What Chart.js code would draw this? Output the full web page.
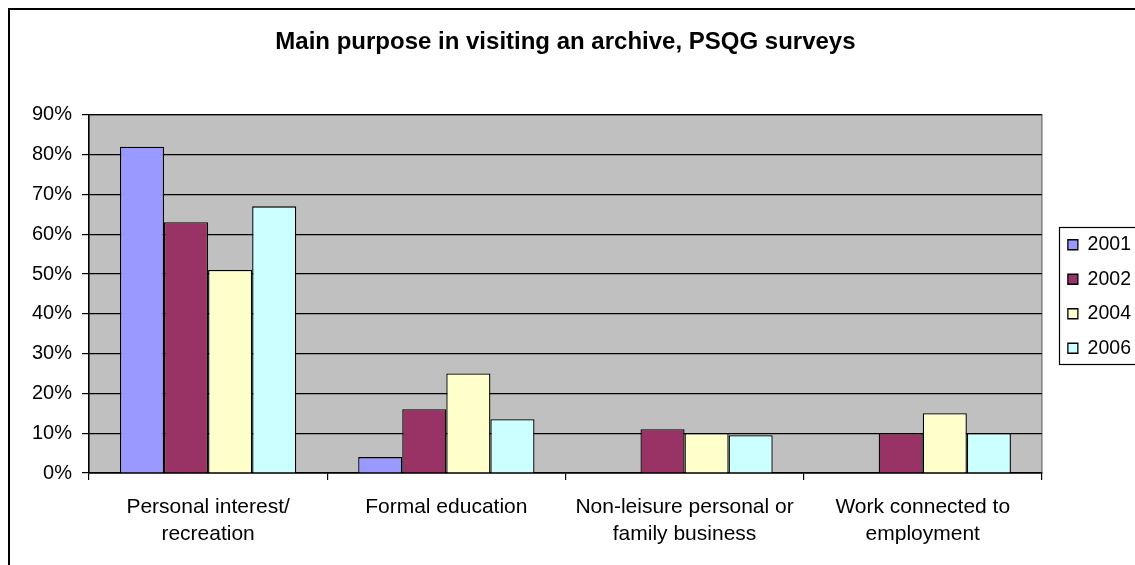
<!DOCTYPE html>
<html>
<head>
<meta charset="utf-8">
<title>Main purpose in visiting an archive, PSQG surveys</title>
<script src="https://cdn.jsdelivr.net/npm/chart.js@4.4.1/dist/chart.umd.min.js"></script>
<style>
  html, body { margin: 0; padding: 0; background: #ffffff; }
  #wrap { width: 1135px; height: 565px; }
  canvas { display: block; }
</style>
</head>
<body>
<div id="wrap"><canvas id="chart" width="1135" height="565"></canvas></div>
<script>
// Visit purposes (x categories), each label split into display lines
const categories = [
  ['Personal interest/', 'recreation'],
  'Formal education',
  ['Non-leisure personal or', 'family business'],
  ['Work connected to', 'employment']
];

// Survey years
const years = ['2001', '2002', '2004', '2006'];

// Share of respondents (%) per purpose, one array per survey year
const share2001 = [82, 4, null, null];
const share2002 = [63, 16, 11, 10];
const share2004 = [51, 25, 10, 15];
const share2006 = [67, 13.5, 9.5, 10];

// Value axis
const yMin = 0;
const yMax = 90;
const yStep = 10;

const seriesValues = [share2001, share2002, share2004, share2006];
const seriesColors = ['#9999FF', '#993366', '#FFFFCC', '#CCFFFF'];

const FONT = "'Liberation Sans', Arial, Helvetica, sans-serif";

// Grey plot background, outer frame and legend frame
const framePlugin = {
  id: 'frame',
  afterLayout(chart) {
    // legend sits a little apart from the plot, level with its middle
    const lg = chart.legend;
    if (lg) {
      lg.left += 11; lg.right += 11;
      lg.top += 14; lg.bottom += 14;
    }
  },
  beforeDraw(chart) {
    const ctx = chart.ctx;
    const a = chart.chartArea;
    ctx.save();
    ctx.fillStyle = '#ffffff';
    ctx.fillRect(0, 0, chart.width, chart.height);
    // outer chart frame
    ctx.strokeStyle = '#000000';
    ctx.lineWidth = 2;
    ctx.strokeRect(9, 9, chart.width + 20, chart.height + 20);
    // plot area
    ctx.fillStyle = '#C0C0C0';
    ctx.fillRect(a.left, a.top, a.right - a.left, a.bottom - a.top);
    ctx.strokeStyle = '#808080';
    ctx.lineWidth = 1.5;
    ctx.strokeRect(a.left, a.top, a.right - a.left, a.bottom - a.top);
    ctx.restore();
  },
  afterDraw(chart) {
    const lg = chart.legend;
    if (!lg || !lg.legendHitBoxes || !lg.legendHitBoxes.length) return;
    const boxes = lg.legendHitBoxes;
    const first = boxes[0];
    const last = boxes[boxes.length - 1];
    const ctx = chart.ctx;
    ctx.save();
    ctx.strokeStyle = '#000000';
    ctx.lineWidth = 1.2;
    const x = Math.round(first.left - 9) + 0.5;
    const top = Math.round(first.top - 8) + 0.5;
    const bottom = Math.round(last.top + last.height + 6) + 0.5;
    ctx.strokeRect(x, top, chart.width + 20 - x, bottom - top);
    ctx.restore();
  }
};

new Chart(document.getElementById('chart'), {
  type: 'bar',
  data: {
    labels: categories,
    datasets: years.map((y, i) => ({
      label: y,
      data: seriesValues[i],
      backgroundColor: seriesColors[i],
      borderColor: '#000000',
      borderWidth: 1.3,
      categoryPercentage: 0.74,
      barPercentage: 1.0
    }))
  },
  options: {
    responsive: false,
    animation: false,
    devicePixelRatio: 1,
    layout: { padding: { top: 0, left: 0, right: 5, bottom: 0 } },
    plugins: {
      tooltip: { enabled: false },
      title: {
        display: true,
        text: 'Main purpose in visiting an archive, PSQG surveys',
        fullSize: false,
        color: '#000000',
        font: { family: FONT, size: 24, weight: 'bold', lineHeight: 1.2 },
        padding: { top: 28, bottom: 58 }
      },
      legend: {
        position: 'right',
        align: 'center',
        labels: {
          color: '#000000',
          font: { family: FONT, size: 19.5 },
          boxWidth: 10,
          boxHeight: 10,
          padding: 15
        }
      }
    },
    scales: {
      x: {
        grid: {
          drawOnChartArea: false,
          drawTicks: true,
          tickLength: 7,
          color: '#000000',
          lineWidth: 1.2,
          offset: true
        },
        border: { display: true, color: '#000000', width: 1.5 },
        ticks: {
          color: '#000000',
          font: { family: FONT, size: 21, lineHeight: 1.29 },
          padding: 14,
          maxRotation: 0,
          autoSkip: false
        },
        afterFit(scale) { scale.height = 92; }
      },
      y: {
        min: yMin,
        max: yMax,
        grid: {
          color: '#000000',
          lineWidth: 1.2,
          drawTicks: true,
          tickLength: 7
        },
        border: { display: true, color: '#000000', width: 1.5 },
        ticks: {
          stepSize: yStep,
          color: '#000000',
          font: { family: FONT, size: 20 },
          padding: 10,
          callback: (v) => v + '%'
        },
        afterFit(scale) { scale.width = 89; }
      }
    }
  },
  plugins: [framePlugin]
});
</script>
</body>
</html>
